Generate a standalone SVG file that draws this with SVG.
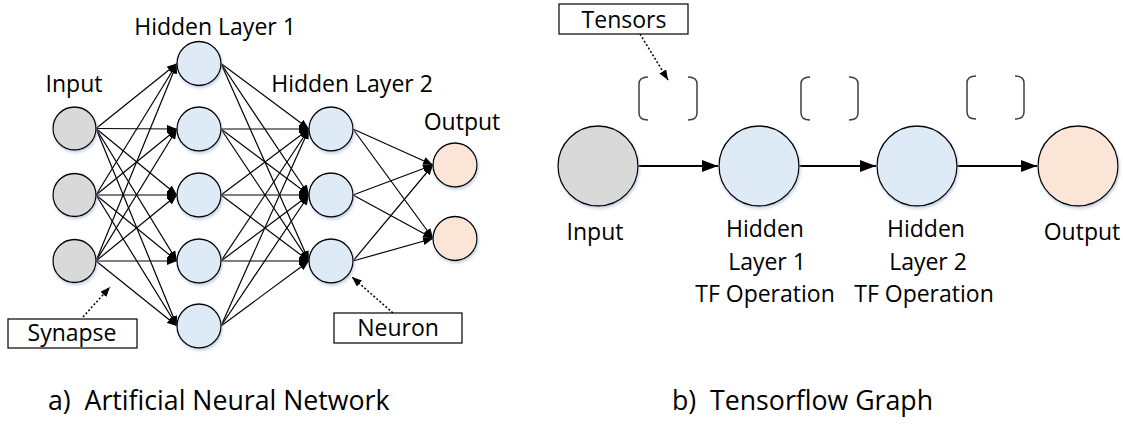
<svg xmlns="http://www.w3.org/2000/svg" width="1123" height="429" viewBox="0 0 1123 429">
<style>
text{font-family:"Open Sans","Liberation Sans",sans-serif;font-size:23px;fill:#000}
.mid{text-anchor:middle}
.cap{font-size:26.7px}
.n{stroke:#000;stroke-width:1.3}
.gray{fill:#d9d9d9}
.blue{fill:#deebf7}
.peach{fill:#fbe5d6}
.syn line{stroke:#000;stroke-width:1.2;marker-end:url(#ah)}
.flow{stroke:#000;stroke-width:2;marker-end:url(#ahb)}
.dot{stroke:#000;stroke-width:1.5;stroke-dasharray:2 2;fill:none;marker-end:url(#ahd)}
.br{fill:none;stroke:#404040;stroke-width:1.5}
.box{fill:#fff;stroke:#000;stroke-width:1.2}
</style>
<defs>
<marker id="ah" markerUnits="userSpaceOnUse" markerWidth="10" markerHeight="8" viewBox="0 0 10 8" refX="10" refY="4" orient="auto"><path d="M0,0 L10,4 L0,8 z" fill="#000"/></marker>
<marker id="ahb" markerUnits="userSpaceOnUse" markerWidth="16" markerHeight="12" viewBox="0 0 16 12" refX="16" refY="6" orient="auto"><path d="M0,0 L16,6 L0,12 z" fill="#000"/></marker>
<marker id="ahd" markerUnits="userSpaceOnUse" markerWidth="10" markerHeight="8" viewBox="0 0 10 8" refX="10" refY="4" orient="auto"><path d="M0,0 L10,4 L0,8 z" fill="#000"/></marker>
<filter id="sh" x="-20%" y="-20%" width="150%" height="150%"><feDropShadow dx="1" dy="2" stdDeviation="1.5" flood-color="#9fb4cf" flood-opacity="0.6"/></filter>
</defs>

<g id="connectors">
<g class="syn">
<line x1="96" y1="128.5" x2="177" y2="63.5"/>
<line x1="96" y1="128.5" x2="177" y2="129"/>
<line x1="96" y1="128.5" x2="177" y2="195"/>
<line x1="96" y1="128.5" x2="177" y2="261"/>
<line x1="96" y1="128.5" x2="177" y2="326"/>
<line x1="96" y1="195" x2="177" y2="63.5"/>
<line x1="96" y1="195" x2="177" y2="129"/>
<line x1="96" y1="195" x2="177" y2="195"/>
<line x1="96" y1="195" x2="177" y2="261"/>
<line x1="96" y1="195" x2="177" y2="326"/>
<line x1="96" y1="261" x2="177" y2="63.5"/>
<line x1="96" y1="261" x2="177" y2="129"/>
<line x1="96" y1="261" x2="177" y2="195"/>
<line x1="96" y1="261" x2="177" y2="261"/>
<line x1="96" y1="261" x2="177" y2="326"/>
<line x1="221" y1="63.5" x2="309" y2="129"/>
<line x1="221" y1="63.5" x2="309" y2="195"/>
<line x1="221" y1="63.5" x2="309" y2="261"/>
<line x1="221" y1="129" x2="309" y2="129"/>
<line x1="221" y1="129" x2="309" y2="195"/>
<line x1="221" y1="129" x2="309" y2="261"/>
<line x1="221" y1="195" x2="309" y2="129"/>
<line x1="221" y1="195" x2="309" y2="195"/>
<line x1="221" y1="195" x2="309" y2="261"/>
<line x1="221" y1="261" x2="309" y2="129"/>
<line x1="221" y1="261" x2="309" y2="195"/>
<line x1="221" y1="261" x2="309" y2="261"/>
<line x1="221" y1="326" x2="309" y2="129"/>
<line x1="221" y1="326" x2="309" y2="195"/>
<line x1="221" y1="326" x2="309" y2="261"/>
<line x1="353" y1="129" x2="433" y2="165"/>
<line x1="353" y1="129" x2="433" y2="238.5"/>
<line x1="353" y1="195" x2="433" y2="165"/>
<line x1="353" y1="195" x2="433" y2="238.5"/>
<line x1="353" y1="261" x2="433" y2="165"/>
<line x1="353" y1="261" x2="433" y2="238.5"/>
</g>
<line class="flow" x1="638" y1="166" x2="718" y2="166"/>
<line class="flow" x1="799" y1="166" x2="876" y2="166"/>
<line class="flow" x1="957" y1="166" x2="1037" y2="166"/>
<path class="dot" d="M83,317 L110,287"/>
<path class="dot" d="M393,313 L352,277"/>
<path class="dot" d="M640,34 L668,80"/>
</g>

<g id="ann-input">
<circle class="n gray" cx="74.5" cy="128.5" r="21.5" filter="url(#sh)"/>
<circle class="n gray" cx="74.5" cy="195" r="21.5" filter="url(#sh)"/>
<circle class="n gray" cx="74.5" cy="261" r="21.5" filter="url(#sh)"/>
<text class="mid" x="74" y="92">Input</text>
</g>
<g id="ann-hidden1">
<circle class="n blue" cx="199" cy="63.5" r="22" filter="url(#sh)"/>
<circle class="n blue" cx="199" cy="129" r="22" filter="url(#sh)"/>
<circle class="n blue" cx="199" cy="195" r="22" filter="url(#sh)"/>
<circle class="n blue" cx="199" cy="261" r="22" filter="url(#sh)"/>
<circle class="n blue" cx="199" cy="326" r="22" filter="url(#sh)"/>
<text class="mid" x="215" y="35">Hidden Layer 1</text>
</g>
<g id="ann-hidden2">
<circle class="n blue" cx="331" cy="129" r="22" filter="url(#sh)"/>
<circle class="n blue" cx="331" cy="195" r="22" filter="url(#sh)"/>
<circle class="n blue" cx="331" cy="261" r="22" filter="url(#sh)"/>
<text class="mid" x="352" y="92">Hidden Layer 2</text>
</g>
<g id="ann-output">
<circle class="n peach" cx="455" cy="165" r="22" filter="url(#sh)"/>
<circle class="n peach" cx="455" cy="238.5" r="22" filter="url(#sh)"/>
<text class="mid" x="462" y="130">Output</text>
</g>
<g id="synapse-label">
<rect class="box" x="8" y="319" width="129" height="29"/>
<text class="mid" x="72" y="341">Synapse</text>
</g>
<g id="neuron-label">
<rect class="box" x="334" y="313" width="128" height="30"/>
<text class="mid" x="398" y="336">Neuron</text>
</g>

<g id="tf-input">
<circle class="n gray" cx="598" cy="166" r="40" filter="url(#sh)"/>
<text class="mid" x="595" y="240">Input</text>
</g>
<g id="tf-hidden1">
<circle class="n blue" cx="759" cy="166" r="40" filter="url(#sh)"/>
<text class="mid" x="765" y="237">Hidden</text>
<text class="mid" x="767" y="270">Layer 1</text>
<text class="mid" x="765" y="302">TF Operation</text>
</g>
<g id="tf-hidden2">
<circle class="n blue" cx="917" cy="166" r="40" filter="url(#sh)"/>
<text class="mid" x="926" y="237">Hidden</text>
<text class="mid" x="928" y="270">Layer 2</text>
<text class="mid" x="924" y="302">TF Operation</text>
</g>
<g id="tf-output">
<circle class="n peach" cx="1078" cy="166" r="40" filter="url(#sh)"/>
<text class="mid" x="1082" y="240">Output</text>
</g>
<g id="tensors">
<path class="br" d="M648,77 Q639,77 639,84 L639,113 Q639,120 648,120 M688,77 Q697,77 697,84 L697,113 Q697,120 688,120"/>
<path class="br" d="M810,77 Q801,77 801,84 L801,113 Q801,120 810,120 M849,77 Q858,77 858,84 L858,113 Q858,120 849,120"/>
<path class="br" d="M976,76 Q967,76 967,83 L967,112 Q967,119 976,119 M1015,76 Q1024,76 1024,83 L1024,112 Q1024,119 1015,119"/>
</g>
<g id="tensors-label">
<rect class="box" x="559" y="4" width="129" height="30"/>
<text class="mid" x="624" y="28">Tensors</text>
</g>

<g id="captions">
<text class="cap" x="48" y="410">a)&#160; Artificial Neural Network</text>
<text class="cap" x="672" y="410">b)&#160; Tensorflow Graph</text>
</g>
</svg>
